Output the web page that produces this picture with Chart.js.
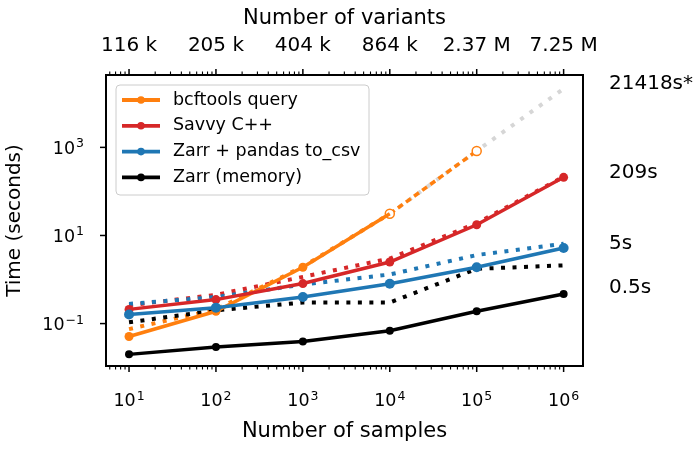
<!DOCTYPE html>
<html>
<head>
<meta charset="utf-8">
<script src="https://cdn.jsdelivr.net/npm/chart.js@4.4.0/dist/chart.umd.min.js"></script>
<style>
  html, body { margin: 0; padding: 0; background: #fff; }
</style>
</head>
<body>
<canvas id="chart" width="700" height="451"></canvas>
<script>
// Sample counts (bottom axis) and the matching variant counts (top axis)
const samples = [10, 100, 1000, 10000, 100000, 1000000];
const variantLabels = ['116 k', '205 k', '404 k', '864 k', '2.37 M', '7.25 M'];
const yTickValues = [0.1, 10, 1000];

// Measured times in seconds
const bcftools = [0.051, 0.19, 1.9, 31, null, null];
const bcftoolsEstimated = [null, null, null, 31, 830, null];
const bcftoolsProjection = [null, null, null, 31, 830, 21418];
const savvy = [0.21, 0.35, 0.81, 2.5, 17.5, 209];
const zarrCsv = [0.16, 0.23, 0.40, 0.80, 1.9, 5.2];
const zarrMemory = [0.02, 0.0295, 0.039, 0.069, 0.19, 0.47];

// Dotted runs drawn without markers
const bcftoolsDotted = [0.075, 0.21, 1.95, 31, null, null];
const savvyDotted = [0.26, 0.45, 1.15, 3.0, 19, 215];
const zarrCsvDotted = [0.28, 0.40, 0.77, 1.3, 3.6, 6.5];
const zarrMemoryDotted = [0.107, 0.20, 0.30, 0.30, 1.75, 2.1];

// Labels written to the right of the plot
const endValues = [21418, 209, 5, 0.5];
const endLabels = ['21418s*', '209s', '5s', '0.5s'];

const legendNames = ['bcftools query', 'Savvy C++', 'Zarr + pandas to_csv', 'Zarr (memory)'];
const colors = ['#ff7f0e', '#d62728', '#1f77b4', '#000000'];

function series(values, color, opts) {
  return Object.assign({
    data: samples.map((x, i) => ({ x: x, y: values[i] })),
    borderColor: color,
    backgroundColor: color,
    pointBackgroundColor: color,
    pointBorderWidth: 0,
    borderWidth: 3.5,
    pointRadius: 0,
    tension: 0,
    xAxisID: 'x',
    yAxisID: 'y'
  }, opts);
}

const dotted = { borderDash: [4, 7.5], borderWidth: 4, pointRadius: 0 };

const datasets = [
  series(bcftools, colors[0], { pointRadius: [4.5, 4.5, 4.5, 0, 0, 0], order: 3 }),
  series(savvy, colors[1], { pointRadius: 4.5, order: 2 }),
  series(zarrCsv, colors[2], { pointRadius: 5, order: 1 }),
  series(zarrMemory, colors[3], { pointRadius: 4, order: 0 }),
  series(bcftoolsEstimated, colors[0], {
    borderDash: [6, 4], pointRadius: 4.5, pointBorderWidth: 1.5,
    pointBackgroundColor: '#ffffff', pointBorderColor: colors[0], order: 4
  }),
  series(bcftoolsDotted, colors[0], Object.assign({ order: 8 }, dotted)),
  series(savvyDotted, colors[1], Object.assign({ order: 6 }, dotted)),
  series(zarrCsvDotted, colors[2], Object.assign({ order: 5 }, dotted)),
  series(zarrMemoryDotted, colors[3], Object.assign({ order: 7 }, dotted)),
  series(bcftoolsProjection, '#d6d6d6', Object.assign({ order: 10 }, dotted))
];

// "10" with a raised exponent, like matplotlib mathtext
function drawPow(ctx, v, x, y, align) {
  const e = Math.round(Math.log10(v));
  const exp = String(e).replace('-', '\u2212');
  ctx.font = '17.5px "DejaVu Sans"';
  const wb = ctx.measureText('10').width;
  ctx.font = '12.5px "DejaVu Sans"';
  const we = ctx.measureText(exp).width;
  const total = wb + 1 + we;
  const x0 = align === 'right' ? x - total : x - total / 2;
  ctx.textAlign = 'left';
  ctx.textBaseline = 'alphabetic';
  ctx.font = '17.5px "DejaVu Sans"';
  ctx.fillText('10', x0, y);
  ctx.font = '12.5px "DejaVu Sans"';
  ctx.fillText(exp, x0 + wb + 1, y - 6.5);
}

// Frame, tick marks, tick labels, right-hand labels and the legend box
const decorations = {
  id: 'decorations',
  afterDraw(chart) {
    const { ctx, chartArea: area, scales } = chart;
    ctx.save();
    ctx.strokeStyle = '#000';
    ctx.fillStyle = '#000';

    // log tick marks on top and bottom
    for (let e = 0; e <= 6; e++) {
      for (let m = 1; m <= 9; m++) {
        const v = m * Math.pow(10, e);
        if (v < scales.x.min || v > scales.x.max) continue;
        const px = scales.x.getPixelForValue(v);
        const len = m === 1 ? 6 : 3.5;
        ctx.lineWidth = m === 1 ? 1.5 : 1.1;
        ctx.beginPath();
        ctx.moveTo(px, area.bottom);
        ctx.lineTo(px, area.bottom + len);
        ctx.moveTo(px, area.top);
        ctx.lineTo(px, area.top - len);
        ctx.stroke();
      }
    }
    ctx.lineWidth = 1.5;
    yTickValues.forEach(v => {
      const py = scales.y.getPixelForValue(v);
      ctx.beginPath();
      ctx.moveTo(area.left - 6, py);
      ctx.lineTo(area.left, py);
      ctx.stroke();
      drawPow(ctx, v, area.left - 22, py + 6.5, 'right');
    });
    samples.forEach(v => {
      drawPow(ctx, v, scales.x.getPixelForValue(v), area.bottom + 40, 'center');
    });

    ctx.lineWidth = 2;
    ctx.strokeRect(area.left, area.top, area.right - area.left, area.bottom - area.top);

    // labels at the right
    ctx.font = '20px "DejaVu Sans"';
    ctx.textBaseline = 'middle';
    ctx.textAlign = 'left';
    endValues.forEach((v, i) => {
      ctx.fillText(endLabels[i], area.right + 26, scales.y.getPixelForValue(v) - 5);
    });

    // legend
    const lx = area.left + 10, ly = area.top + 10, lw = 253, lh = 110;
    ctx.beginPath();
    ctx.roundRect(lx, ly, lw, lh, 4);
    ctx.fillStyle = 'rgba(255,255,255,0.8)';
    ctx.fill();
    ctx.lineWidth = 1;
    ctx.strokeStyle = '#cccccc';
    ctx.stroke();
    ctx.font = '17.5px "DejaVu Sans"';
    legendNames.forEach((name, i) => {
      const y = ly + 15 + i * 25.8;
      ctx.strokeStyle = colors[i];
      ctx.lineWidth = 3.8;
      ctx.beginPath();
      ctx.moveTo(lx + 6, y);
      ctx.lineTo(lx + 44, y);
      ctx.stroke();
      ctx.fillStyle = colors[i];
      ctx.beginPath();
      ctx.arc(lx + 25, y, 3.8, 0, Math.PI * 2);
      ctx.fill();
      ctx.fillStyle = '#000';
      ctx.fillText(name, lx + 57, y);
    });
    ctx.restore();
  }
};

Chart.defaults.font.family = '"DejaVu Sans"';
Chart.defaults.color = '#000';

const xMin = Math.pow(10, 0.735);
const xMax = Math.pow(10, 6.223);

const ctx = document.getElementById('chart').getContext('2d');
new Chart(ctx, {
  type: 'line',
  data: { datasets: datasets },
  options: {
    responsive: false,
    animation: false,
    devicePixelRatio: 1,
    layout: { padding: { left: 0, right: 117, top: 0, bottom: 0 } },
    plugins: { legend: { display: false }, tooltip: { enabled: false } },
    scales: {
      x: {
        type: 'logarithmic',
        position: 'bottom',
        min: xMin,
        max: xMax,
        bounds: 'data',
        grid: { display: false, drawTicks: false },
        border: { display: false },
        afterBuildTicks: s => { s.ticks = samples.map(v => ({ value: v })); },
        afterFit: s => { s.height = 85; },
        ticks: { display: false },
        title: { display: true, text: 'Number of samples', font: { size: 21 }, padding: { top: 0, bottom: 6.4 } }
      },
      x2: {
        type: 'logarithmic',
        position: 'top',
        min: xMin,
        max: xMax,
        bounds: 'data',
        grid: { display: false, drawTicks: false },
        border: { display: false },
        afterBuildTicks: s => { s.ticks = samples.map(v => ({ value: v })); },
        afterFit: s => { s.height = 75; },
        ticks: { autoSkip: false, maxRotation: 0, padding: 17, font: { size: 20 }, callback: (v, i) => variantLabels[i] },
        title: { display: true, text: 'Number of variants', font: { size: 21 }, padding: { top: 5.5, bottom: 0 } }
      },
      y: {
        type: 'logarithmic',
        position: 'left',
        min: Math.pow(10, -1.963),
        max: Math.pow(10, 4.643),
        bounds: 'data',
        grid: { display: false, drawTicks: false },
        border: { display: false },
        afterBuildTicks: s => { s.ticks = yTickValues.map(v => ({ value: v })); },
        afterFit: s => { s.width = 106; },
        ticks: { display: false },
        title: { display: true, text: 'Time (seconds)', font: { size: 20 }, padding: { top: 3, bottom: 0 } }
      }
    }
  },
  plugins: [decorations]
});
</script>
</body>
</html>
